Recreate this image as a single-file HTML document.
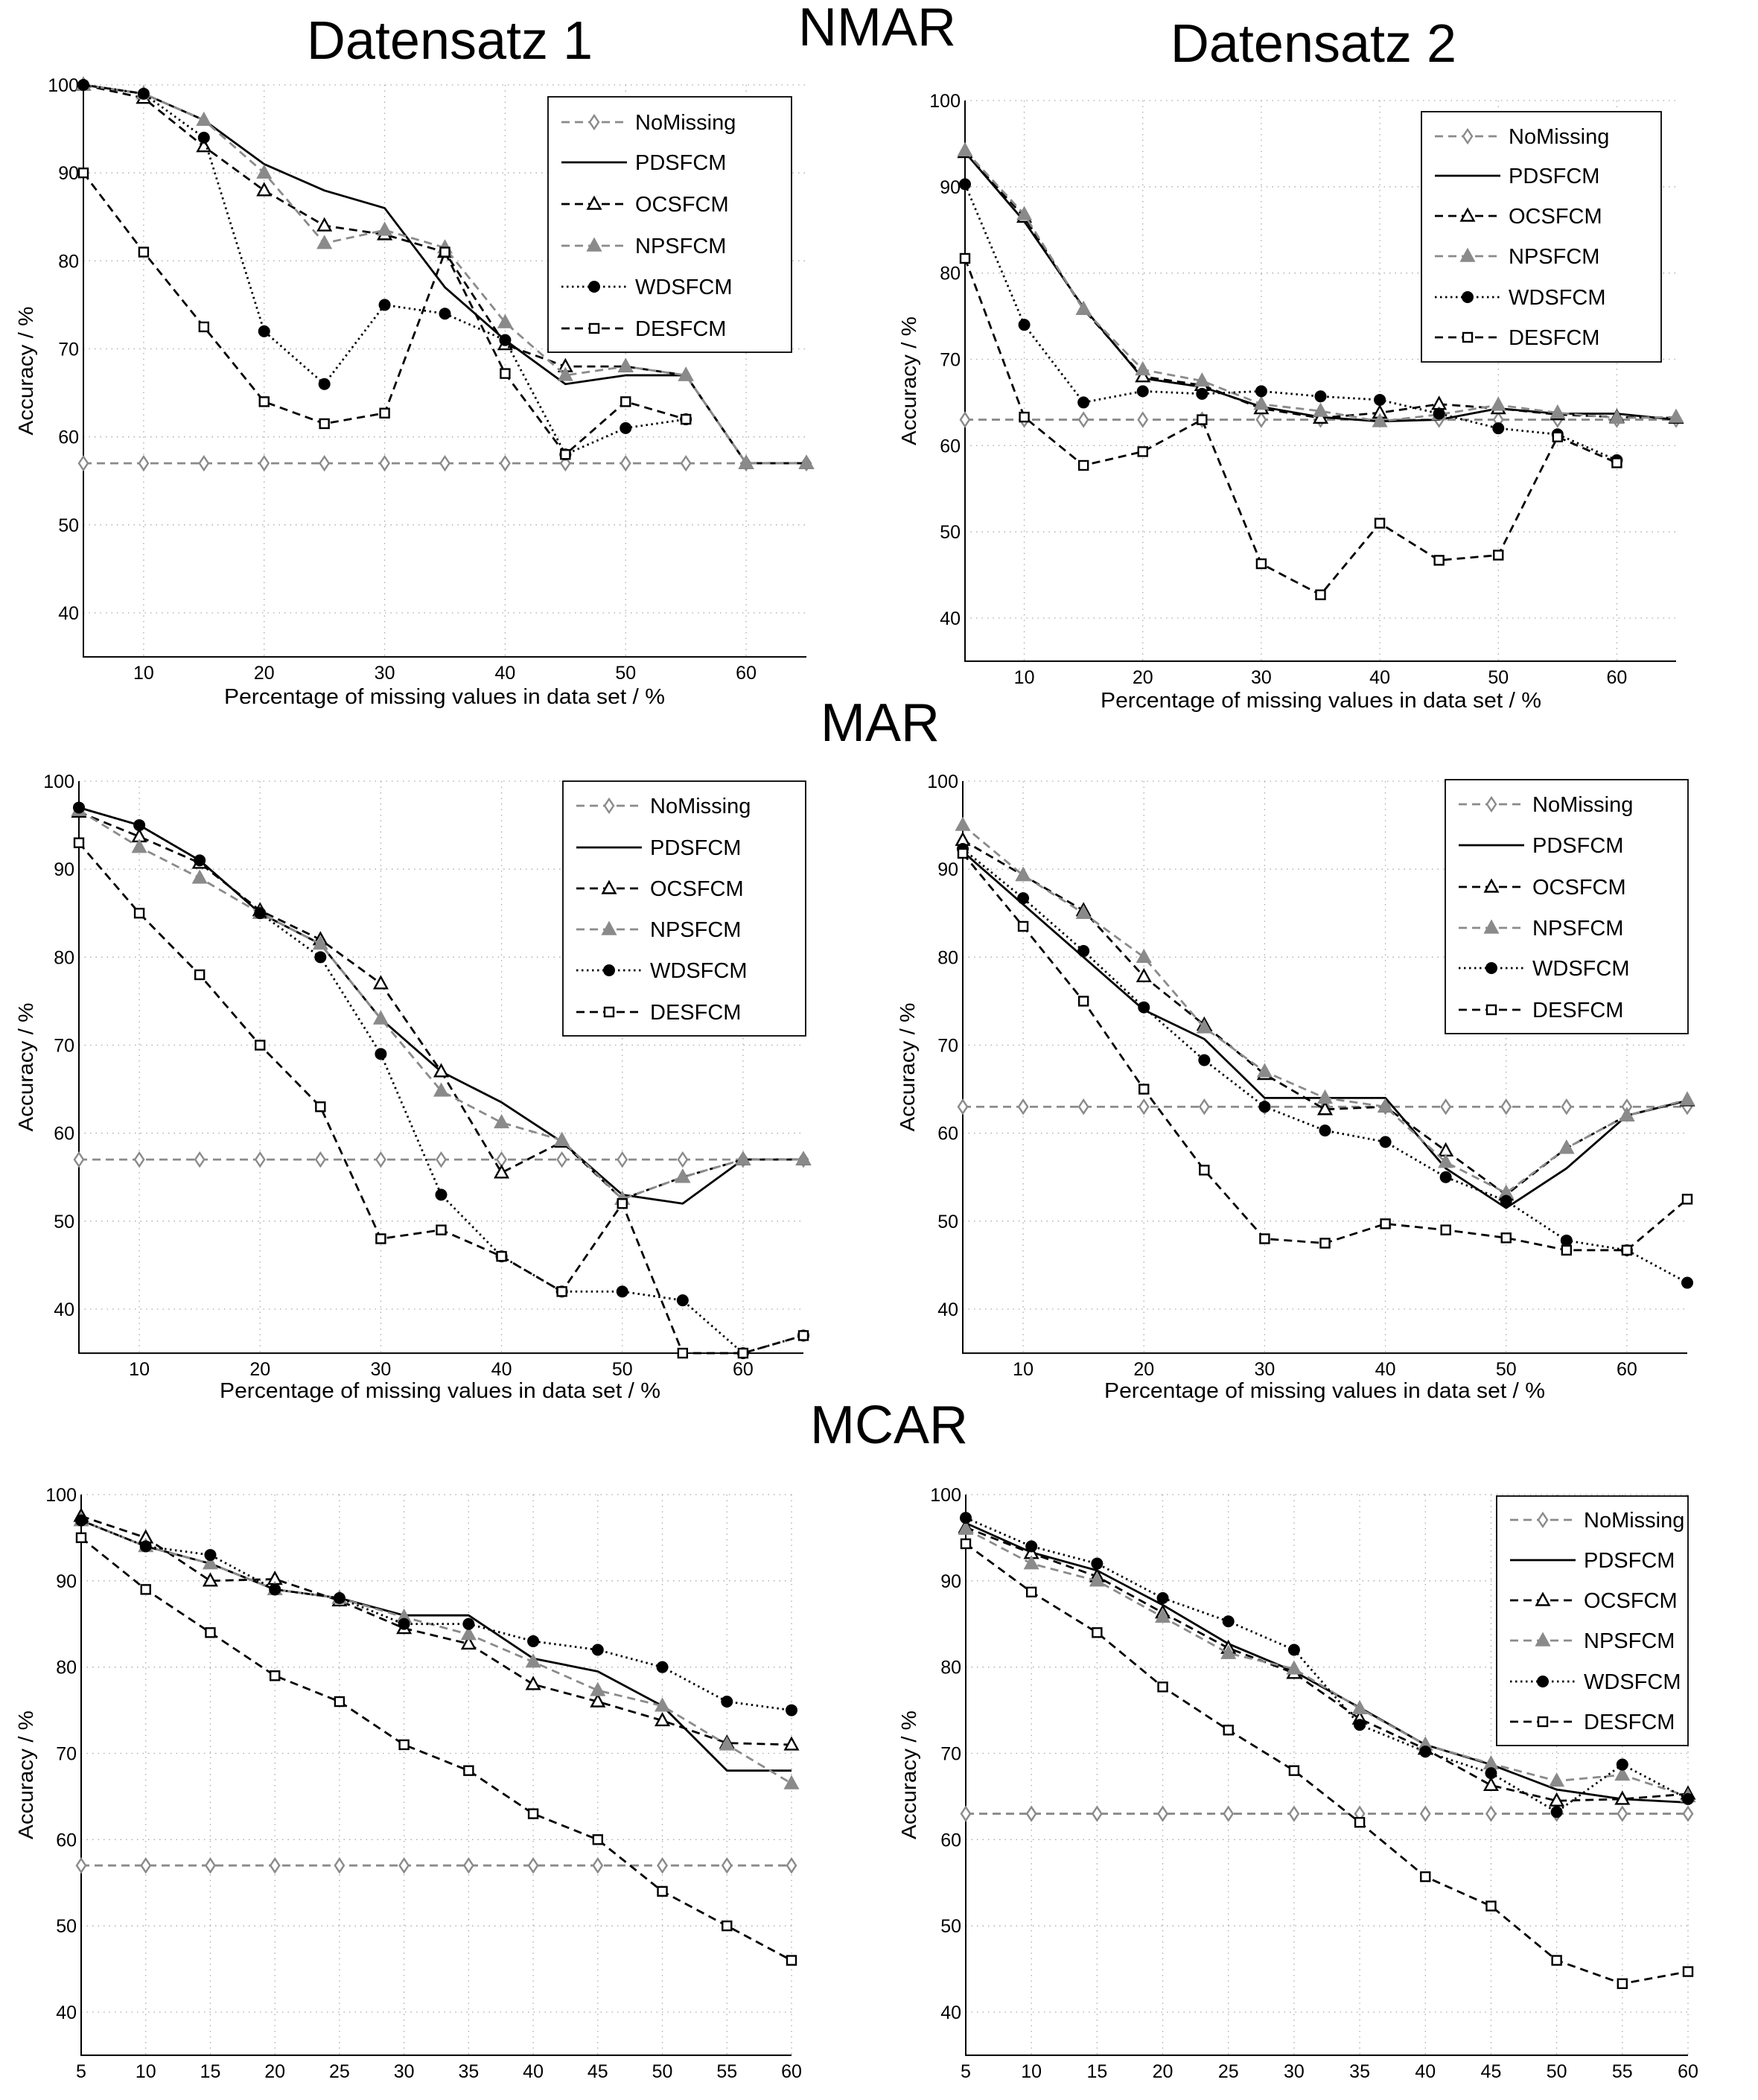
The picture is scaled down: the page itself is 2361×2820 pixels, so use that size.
<!DOCTYPE html>
<html><head><meta charset="utf-8"><style>
html,body{margin:0;padding:0;background:#fff;}
svg{display:block;font-family:"Liberation Sans",sans-serif;}
</style></head><body>
<svg id="fig" width="2361" height="2820" viewBox="0 0 2361 2820" xmlns="http://www.w3.org/2000/svg">
<rect width="2361" height="2820" fill="#fff"/>
<text x="604" y="79" font-size="72" text-anchor="middle">Datensatz 1</text>
<text x="1764" y="83" font-size="72" text-anchor="middle">Datensatz 2</text>
<text x="1178" y="61" font-size="72" text-anchor="middle">NMAR</text>
<text x="1182" y="995" font-size="72" text-anchor="middle">MAR</text>
<text x="1194" y="1938" font-size="72" text-anchor="middle">MCAR</text>
</svg>
<script>
const xsA = [5,10,15,20,25,30,35,40,45,50,55,60,65];
const xsB = [5,10,15,20,25,30,35,40,45,50,55,60];
const yTicks = [40,50,60,70,80,90,100];
const xTicksA = [10,20,30,40,50,60];
const xTicksB = [5,10,15,20,25,30,35,40,45,50,55,60];
const seriesNames = ["NoMissing","PDSFCM","OCSFCM","NPSFCM","WDSFCM","DESFCM"];

const nmar1_nomissing = [57,57,57,57,57,57,57,57,57,57,57,57,57];
const nmar1_pdsfcm = [100,99,96,91,88,86,77,71,66,67,67,57,57];
const nmar1_ocsfcm = [100,98.5,93,88,84,83,81,70.5,68,68,67,57,57];
const nmar1_npsfcm = [100,99,96,90,82,83.5,81.5,73,67,68,67,57,57];
const nmar1_wdsfcm = [100,99,94,72,66,75,74,71,58,61,62,null,null];
const nmar1_desfcm = [90,81,72.5,64,61.5,62.7,81,67.2,58,64,62,null,null];

const nmar2_nomissing = [63,63,63,63,63,63,63,63,63,63,63,63,63];
const nmar2_pdsfcm = [94,86,76,67.8,66.8,64.5,63.3,62.8,63,64.3,63.7,63.7,63];
const nmar2_ocsfcm = [94,86.5,75.8,68,67,64.3,63.2,63.8,64.8,64.3,63.6,63.3,63.2];
const nmar2_npsfcm = [94.2,86.8,75.8,68.8,67.5,64.8,64,62.8,63.6,64.7,63.8,63.2,63.3];
const nmar2_wdsfcm = [90.3,74,65,66.3,66,66.3,65.7,65.3,63.7,62,61.3,58.3,null];
const nmar2_desfcm = [81.7,63.3,57.7,59.3,63,46.3,42.7,51,46.7,47.3,61,58,null];

const mar1_nomissing = [57,57,57,57,57,57,57,57,57,57,57,57,57];
const mar1_pdsfcm = [97,95,91,85,81.5,73,67,63.5,59,53,52,57,57];
const mar1_ocsfcm = [96.5,93.7,90.7,85.3,82,77,67,55.5,59,52.5,55,57,57];
const mar1_npsfcm = [96.7,92.5,89,85,81.5,73,64.8,61.2,59.2,52.5,55,57,57];
const mar1_wdsfcm = [97,95,91,85,80,69,53,46,42,42,41,35,37];
const mar1_desfcm = [93,85,78,70,63,48,49,46,42,52,35,35,37];

const mar2_nomissing = [63,63,63,63,63,63,63,63,63,63,63,63,63];
const mar2_pdsfcm = [92,86,80,74,70.7,64,64,64,56,51.5,56,62,63.7];
const mar2_ocsfcm = [93.3,89.3,85.3,77.8,72.3,66.7,62.7,63,58,53,58.3,62,63.7];
const mar2_npsfcm = [95,89.3,85,80,72,67,64,63,56.7,53.2,58.3,62,63.8];
const mar2_wdsfcm = [92.3,86.7,80.7,74.3,68.3,63,60.3,59,55,52.3,47.8,46.7,43];
const mar2_desfcm = [91.8,83.5,75,65,55.8,48,47.5,49.7,49,48.1,46.7,46.7,52.5];

const mcar1_nomissing = [57,57,57,57,57,57,57,57,57,57,57,57];
const mcar1_pdsfcm = [97,94,92,89,88,86,86,81,79.5,75.5,68,68];
const mcar1_ocsfcm = [97.5,95,90,90.2,87.7,84.5,82.7,78,76,73.8,71.2,71];
const mcar1_npsfcm = [97,94,92,89,88,85.8,83.8,80.6,77.3,75.5,71,66.5];
const mcar1_wdsfcm = [97,94,93,89,88,85,85,83,82,80,76,75];
const mcar1_desfcm = [95,89,84,79,76,71,68,63,60,54,50,46];

const mcar2_nomissing = [63,63,63,63,63,63,63,63,63,63,63,63];
const mcar2_pdsfcm = [96.7,93.3,91.2,87.2,82.7,79.5,75.3,71,68.7,65.8,64.7,64.3];
const mcar2_ocsfcm = [96.2,93.2,90.5,86.3,82.2,79.3,74,70.5,66.3,64.5,64.7,65.3];
const mcar2_npsfcm = [96,92,90,85.8,81.6,79.8,75.2,71,68.8,66.8,67.5,65];
const mcar2_wdsfcm = [97.3,94,92,88,85.3,82,73.3,70.2,67.7,63.2,68.7,64.7];
const mcar2_desfcm = [94.3,88.7,84,77.7,72.7,68,62,55.7,52.3,46,43.3,44.7];

const NS = "http://www.w3.org/2000/svg";
const svg = document.getElementById("fig");
function mk(tag, attrs, parent){ const e=document.createElementNS(NS,tag); for(const k in attrs) e.setAttribute(k,attrs[k]); (parent||svg).appendChild(e); return e; }

const styles = [
 {color:"#8a8a8a", dash:"11,7", marker:"diamond"},
 {color:"#000", dash:"", marker:"none"},
 {color:"#000", dash:"11,7", marker:"triOpen"},
 {color:"#8a8a8a", dash:"11,7", marker:"triFill"},
 {color:"#000", dash:"2.5,4.5", marker:"circle"},
 {color:"#000", dash:"11,7", marker:"square"}
];

function marker(g, type, x, y, color){
  let e;
  if(type==="diamond") e=mk("polygon",{points:`${x},${y-9} ${x+6},${y} ${x},${y+9} ${x-6},${y}`,fill:"#fff",stroke:color,"stroke-width":2.4},g);
  else if(type==="triOpen") e=mk("polygon",{points:`${x},${y-9} ${x+8.5},${y+6.5} ${x-8.5},${y+6.5}`,fill:"#fff",stroke:"#000","stroke-width":2.4},g);
  else if(type==="triFill") e=mk("polygon",{points:`${x},${y-9} ${x+8.5},${y+6.5} ${x-8.5},${y+6.5}`,fill:"#8a8a8a",stroke:"#8a8a8a","stroke-width":2.4},g);
  else if(type==="circle") e=mk("circle",{cx:x,cy:y,r:8,fill:"#000"},g);
  else if(type==="square") e=mk("rect",{x:x-6,y:y-6,width:12,height:12,fill:"#fff",stroke:"#000","stroke-width":2.4},g);
  if(e){
    
    
  }
}

function chart(cfg){
  const g = mk("g",{});
  
  
  const sx = v => cfg.x0 + (v-cfg.xmin)/(cfg.xmax-cfg.xmin)*(cfg.x1-cfg.x0);
  const sy = v => cfg.y100 + (100-v)/60*(cfg.y40-cfg.y100);
  const yBot = sy(35);
  cfg.xticks.forEach(t=>{
    const l=mk("line",{x1:sx(t),x2:sx(t),y1:sy(100),y2:yBot,stroke:"#aaa","stroke-width":1.3,"stroke-dasharray":"1.5,6"},g);
    
    
    const tx=mk("text",{x:sx(t),y:yBot+30,"font-size":25,"text-anchor":"middle"},g); tx.textContent=t;
    
    
  });
  yTicks.forEach(t=>{
    const l=mk("line",{x1:cfg.x0,x2:cfg.x1,y1:sy(t),y2:sy(t),stroke:"#aaa","stroke-width":1.3,"stroke-dasharray":"1.5,6"},g);
    
    
    const tx=mk("text",{x:cfg.x0-6,y:sy(t)+9,"font-size":25,"text-anchor":"end"},g); tx.textContent=t;
    
    
  });
  const ax=mk("path",{d:`M${cfg.x0},${sy(100)} V${yBot} H${cfg.x1}`,fill:"none",stroke:"#000","stroke-width":2},g);
  
  
  const yl=mk("text",{x:0,y:0,"font-size":28,"text-anchor":"middle",textLength:173,lengthAdjust:"spacingAndGlyphs",transform:`translate(${cfg.ylx},${(sy(100)+yBot)/2}) rotate(-90)`},g);
  yl.textContent="Accuracy / %";
  
  
  if(cfg.xlab){
    const xl=mk("text",{x:cfg.xlab[0],y:cfg.xlab[1],"font-size":29,"text-anchor":"middle",textLength:592,lengthAdjust:"spacingAndGlyphs"},g);
    xl.textContent="Percentage of missing values in data set / %";
    
    
  }
  cfg.series.forEach((vals,i)=>{
    const st=styles[i];
    const sg=mk("g",{},g);
    
    
    let d="", started=false;
    vals.forEach((v,k)=>{ if(v===null){started=false;return;} d+=(started?"L":"M")+sx(cfg.xs[k])+","+sy(v)+" "; started=true; });
    const attrs={d:d,fill:"none",stroke:st.color,"stroke-width":2.8,"stroke-linejoin":"round"};
    if(st.dash) attrs["stroke-dasharray"]=st.dash;
    const p=mk("path",attrs,sg);
    
    
    vals.forEach((v,k)=>{ if(v!==null) marker(sg,st.marker,sx(cfg.xs[k]),sy(v),st.color); });
  });
  if(cfg.legend){
    const [lx,ly,lx2,ly2,rows]=cfg.legend;
    const lg=mk("g",{},g);
    
    
    mk("rect",{x:lx,y:ly,width:lx2-lx,height:ly2-ly,fill:"#fff",stroke:"#000","stroke-width":1.8},lg);
    rows.forEach((ry,i)=>{
      const st=styles[i];
      const eg=mk("g",{},lg);
      
      
      const a={x1:lx+18,x2:lx+106,y1:ry,y2:ry,stroke:st.color,"stroke-width":2.8};
      if(st.dash) a["stroke-dasharray"]=st.dash;
      mk("line",a,eg);
      marker(eg,st.marker,lx+62,ry,st.color);
      const t=mk("text",{x:lx+117,y:ry+10,"font-size":29},eg); t.textContent=seriesNames[i];
    });
  }
}

chart({name:"chart-nmar-datensatz-1",x0:112,x1:1083,xmin:5,xmax:65,y100:114,y40:823,xs:xsA,xticks:xTicksA,ylx:44,xlab:[597,945],
  series:[nmar1_nomissing,nmar1_pdsfcm,nmar1_ocsfcm,nmar1_npsfcm,nmar1_wdsfcm,nmar1_desfcm],
  legend:[736,130,1063,473,[164,218,274,330,385,441]]});
chart({name:"chart-nmar-datensatz-2",x0:1296,x1:2251,xmin:5,xmax:65,y100:135,y40:830,xs:xsA,xticks:xTicksA,ylx:1230,xlab:[1774,950],
  series:[nmar2_nomissing,nmar2_pdsfcm,nmar2_ocsfcm,nmar2_npsfcm,nmar2_wdsfcm,nmar2_desfcm],
  legend:[1909,150,2231,486,[183,236,290,344,399,453]]});
chart({name:"chart-mar-datensatz-1",x0:106,x1:1079,xmin:5,xmax:65,y100:1049,y40:1758,xs:xsA,xticks:xTicksA,ylx:44,xlab:[591,1877],
  series:[mar1_nomissing,mar1_pdsfcm,mar1_ocsfcm,mar1_npsfcm,mar1_wdsfcm,mar1_desfcm],
  legend:[756,1049,1082,1391,[1082,1138,1193,1248,1303,1359]]});
chart({name:"chart-mar-datensatz-2",x0:1293,x1:2266,xmin:5,xmax:65,y100:1049,y40:1758,xs:xsA,xticks:xTicksA,ylx:1228,xlab:[1779,1877],
  series:[mar2_nomissing,mar2_pdsfcm,mar2_ocsfcm,mar2_npsfcm,mar2_wdsfcm,mar2_desfcm],
  legend:[1941,1047,2267,1388,[1080,1135,1191,1246,1300,1356]]});
chart({name:"chart-mcar-datensatz-1",x0:109,x1:1063,xmin:5,xmax:60,y100:2007,y40:2702,xs:xsB,xticks:xTicksB,ylx:44,xlab:null,
  series:[mcar1_nomissing,mcar1_pdsfcm,mcar1_ocsfcm,mcar1_npsfcm,mcar1_wdsfcm,mcar1_desfcm],legend:null});
chart({name:"chart-mcar-datensatz-2",x0:1297,x1:2267,xmin:5,xmax:60,y100:2007,y40:2702,xs:xsB,xticks:xTicksB,ylx:1230,xlab:null,
  series:[mcar2_nomissing,mcar2_pdsfcm,mcar2_ocsfcm,mcar2_npsfcm,mcar2_wdsfcm,mcar2_desfcm],
  legend:[2010,2009,2267,2344,[2041,2095,2149,2203,2258,2312]]});
</script>
</body></html>
